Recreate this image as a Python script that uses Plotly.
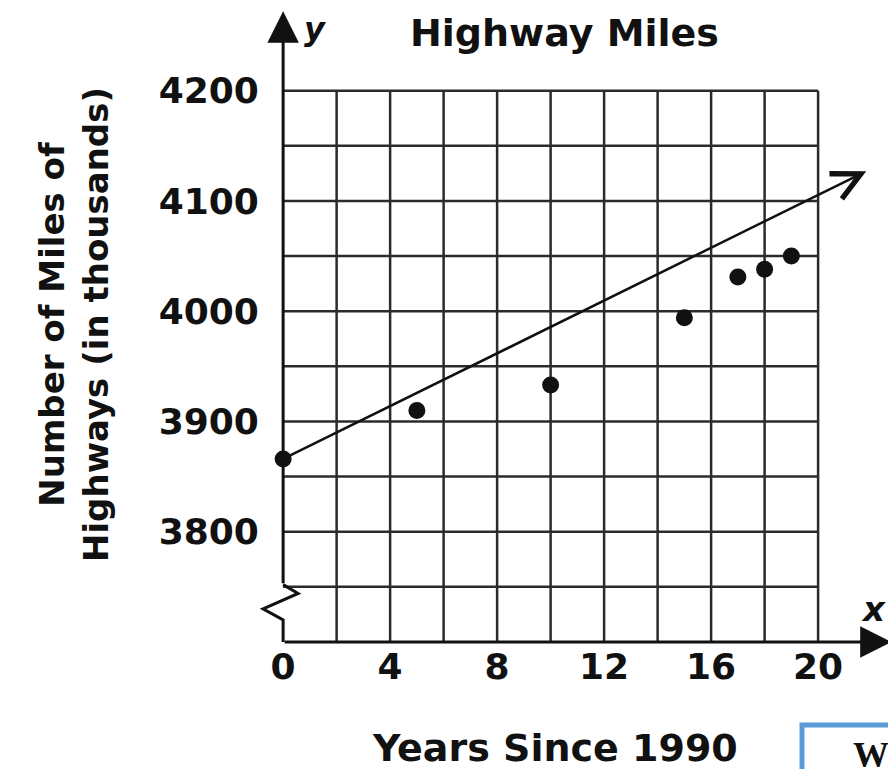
import plotly.graph_objects as go

# data
years = [0, 5, 10, 15, 17, 18, 19]
miles = [3866, 3910, 3933, 3994, 4031, 4038, 4050]   # thousands of miles

trend_x = [0, 21.8]
trend_y = [3866, 4127]

x_ticks = [0, 4, 8, 12, 16, 20]
y_ticks = [3800, 3900, 4000, 4100, 4200]

# the y axis is broken: the "0" sits one grid step below 3750
BREAK_Y = 3700
X_RANGE = [-1.5, 22.8]
Y_RANGE = [BREAK_Y, 4275]

FONT = "DejaVu Sans"
INK = "#111111"
GRID = "#2b2b2b"

fig = go.Figure()

fig.add_trace(go.Scatter(
    x=years, y=miles, mode="markers",
    marker=dict(size=17, color=INK),
    cliponaxis=False, showlegend=False, hoverinfo="skip"
))

# grid (every 2 years, every 50 thousand miles)
for gx in range(2, 21, 2):
    fig.add_shape(type="line", x0=gx, x1=gx, y0=BREAK_Y, y1=4200,
                  line=dict(color=GRID, width=2.5), layer="below")
for gy in range(3750, 4201, 50):
    fig.add_shape(type="line", x0=0, x1=20, y0=gy, y1=gy,
                  line=dict(color=GRID, width=2.5), layer="below")

# axis break (zigzag) on the y axis
zig = [(0, BREAK_Y), (0, BREAK_Y + 20), (-0.75, BREAK_Y + 30),
       (0.56, BREAK_Y + 44), (0, BREAK_Y + 52)]
path = "M " + " L ".join(f"{a},{b}" for a, b in zig)
fig.add_shape(type="path", path=path, line=dict(color=INK, width=3))

# axes with arrow heads
fig.add_annotation(x=0, y=4272, ax=0, ay=BREAK_Y + 52, xref="x", yref="y",
                   axref="x", ayref="y", text="", showarrow=True,
                   arrowhead=2, arrowsize=2.1, arrowwidth=3, arrowcolor=INK,
                   standoff=0)
fig.add_annotation(x=22.75, y=BREAK_Y, ax=0, ay=BREAK_Y, xref="x", yref="y",
                   axref="x", ayref="y", text="", showarrow=True,
                   arrowhead=2, arrowsize=2.1, arrowwidth=3, arrowcolor=INK,
                   standoff=0)

# trend line
fig.add_annotation(x=trend_x[1], y=trend_y[1], ax=trend_x[0], ay=trend_y[0],
                   xref="x", yref="y", axref="x", ayref="y", text="",
                   showarrow=True, arrowhead=5, arrowsize=2.2, arrowwidth=2.5,
                   arrowcolor=INK, standoff=0)

tick_font = dict(family=FONT, size=36, color=INK, weight="bold")
fig.add_annotation(x=-1.16, y=BREAK_Y - 7, xref="x", yref="y", text="0",
                   showarrow=False, font=tick_font)
fig.add_annotation(x=1.2, y=4256, xref="x", yref="y", text="<i>y</i>",
                   showarrow=False, font=dict(family=FONT, size=32, color=INK, weight="bold"))
fig.add_annotation(x=22.06, y=BREAK_Y + 30, xref="x", yref="y", text="<i>x</i>",
                   showarrow=False, font=dict(family=FONT, size=34, color=INK, weight="bold"))

fig.add_annotation(x=0.494, y=0.9606, xref="paper", yref="paper",
                   xanchor="center", yanchor="middle",
                   text="Highway Miles", showarrow=False,
                   font=dict(family=FONT, size=38, color=INK, weight="bold"))
fig.add_annotation(x=0.48, y=-0.167, xref="paper", yref="paper",
                   xanchor="center", yanchor="middle",
                   text="Years Since 1990", showarrow=False,
                   font=dict(family=FONT, size=38, color=INK, weight="bold"))
fig.add_annotation(x=-0.26, y=0.5, xref="paper", yref="paper",
                   xanchor="center", yanchor="middle",
                   text="Number of Miles of<br>Highways (in thousands)",
                   textangle=-90, showarrow=False,
                   font=dict(family=FONT, size=34, color=INK, weight="bold"))

# piece of the next question box, cut by the page edge
fig.add_shape(type="rect", xref="paper", yref="paper",
              x0=0.86, x1=1.1, y0=-0.131, y1=-0.25,
              line=dict(color="#5b9bd5", width=5), fillcolor="white")
fig.add_annotation(x=0.935, y=-0.178, xref="paper", yref="paper", text="Wh",
                   xanchor="left", yanchor="middle", showarrow=False,
                   font=dict(family="Liberation Serif", size=36, color=INK, weight="bold"))

fig.update_xaxes(range=X_RANGE, tickvals=x_ticks, ticktext=[str(v) for v in x_ticks],
                 showgrid=False, zeroline=False, showline=False,
                 ticks="", tickfont=tick_font)
fig.update_yaxes(range=Y_RANGE, tickvals=y_ticks,
                 anchor="free", position=(0 - X_RANGE[0]) / (X_RANGE[1] - X_RANGE[0]),
                 showgrid=False, zeroline=False, showline=False,
                 ticks="outside", ticklen=17, tickcolor="rgba(0,0,0,0)",
                 tickfont=tick_font)

# the page body adds 8px on the left and top, so the figure is 8px short
fig.update_layout(
    width=888, height=761,
    margin=dict(l=235, r=3, t=0, b=127),
    plot_bgcolor="white", paper_bgcolor="white",
    showlegend=False,
)

fig.write_html("out.html")
